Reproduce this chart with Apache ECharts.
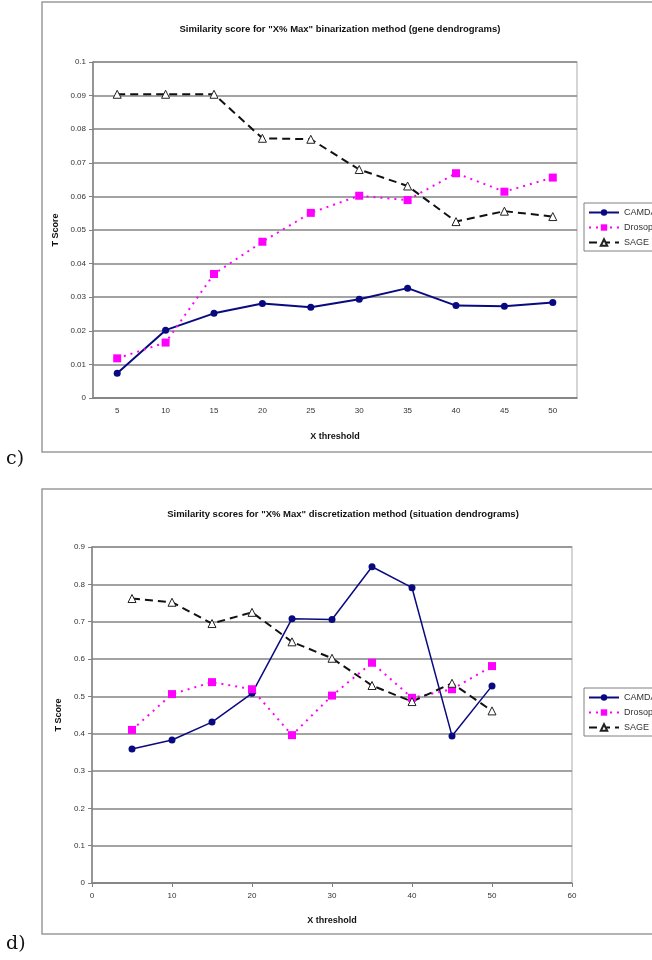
<!DOCTYPE html>
<html>
<head>
<meta charset="utf-8">
<script src="https://cdn.jsdelivr.net/npm/echarts@6/dist/echarts.min.js"></script>
<style>
  html, body { margin: 0; padding: 0; background: #fff; }
  #chart { width: 652px; height: 960px; }
</style>
</head>
<body>
<div id="chart"></div>
<script>
// panel c: binarization, gene dendrograms
var thresholdsC = ['5', '10', '15', '20', '25', '30', '35', '40', '45', '50'];
var camdaC = [0.0074, 0.0202, 0.0252, 0.0281, 0.0270, 0.0294, 0.0327, 0.0275, 0.0273, 0.0284];
var drosoC = [0.0118, 0.0165, 0.0369, 0.0465, 0.0551, 0.0602, 0.0589, 0.0669, 0.0614, 0.0656];
var sageC  = [0.0904, 0.0904, 0.0904, 0.0773, 0.0770, 0.0680, 0.0631, 0.0525, 0.0556, 0.0540];

// panel d: discretization, situation dendrograms
var thresholdsD = [5, 10, 15, 20, 25, 30, 35, 40, 45, 50];
var camdaD = [0.359, 0.383, 0.431, 0.508, 0.708, 0.706, 0.847, 0.791, 0.394, 0.528];
var drosoD = [0.410, 0.506, 0.538, 0.519, 0.396, 0.502, 0.590, 0.496, 0.519, 0.581];
var sageD  = [0.762, 0.752, 0.695, 0.725, 0.646, 0.602, 0.529, 0.486, 0.535, 0.461];

var seriesNames = ['CAMDA', 'Drosophila', 'SAGE'];
var titleC = 'Similarity score for "X% Max" binarization method (gene dendrograms)';
var titleD = 'Similarity scores for "X% Max" discretization method (situation dendrograms)';

var FONT = '"Liberation Sans Narrow", "Liberation Sans", Arial, sans-serif';
var gridColor = '#858585';

function pairs(xs, ys) {
    return xs.map(function (x, i) { return [x, ys[i]]; });
}

// style per series, shared by both panels
function lineSeries(name, data, idx, width) {
    var s = {
        name: name,
        type: 'line',
        data: data,
        xAxisIndex: idx,
        yAxisIndex: idx,
        animation: false,
        z: 3
    };
    if (name === 'CAMDA') {
        s.symbol = 'circle';
        s.symbolSize = 7;
        s.itemStyle = { color: '#0a0a80' };
        s.lineStyle = { color: '#0a0a80', width: width, type: 'solid' };
    } else if (name === 'Drosophila') {
        s.symbol = 'rect';
        s.symbolSize = 8;
        s.itemStyle = { color: '#ff00ff' };
        s.lineStyle = { color: '#ff00ff', width: 2, type: [2, 5] };
    } else {
        s.symbol = 'triangle';
        s.symbolSize = 8;
        s.itemStyle = { color: '#ffffff', borderColor: '#222222', borderWidth: 1 };
        s.lineStyle = { color: '#111111', width: 2, type: [8, 5] };
    }
    return s;
}

function yAxis(idx, max, interval) {
    return {
        type: 'value',
        gridIndex: idx,
        min: 0,
        max: max,
        interval: interval,
        name: 'T Score',
        nameLocation: 'middle',
        nameGap: 27,
        nameTextStyle: { fontFamily: FONT, fontSize: 9, fontWeight: 'bold', color: '#111' },
        axisLine: { show: true, lineStyle: { color: '#808080', width: 1.5 } },
        axisTick: { show: true, length: 4, lineStyle: { color: '#808080' } },
        axisLabel: {
            fontFamily: FONT, fontSize: 8, color: '#333', margin: 7,
            formatter: function (v) { return String(+v.toFixed(2)); }
        },
        splitLine: { show: true, lineStyle: { color: gridColor, width: 1.6 } }
    };
}

var chart = echarts.init(document.getElementById('chart'), null, { renderer: 'canvas' });

chart.setOption({
    backgroundColor: '#ffffff',
    animation: false,
    title: [
        {
            text: titleC, left: 335, top: 19, textAlign: 'center',
            textStyle: { fontFamily: FONT, fontSize: 9.5, fontWeight: 'bold', color: '#111' }
        },
        {
            text: titleD, left: 338, top: 504, textAlign: 'center',
            textStyle: { fontFamily: FONT, fontSize: 9.5, fontWeight: 'bold', color: '#111' }
        }
    ],
    legend: [
        {
            data: seriesNames, orient: 'vertical', left: 584, top: 203,
            padding: [5, 30, 4, 4], itemGap: 6, itemWidth: 30, itemHeight: 8,
            borderColor: '#808080', borderWidth: 1,
            textStyle: { fontFamily: FONT, fontSize: 9, color: '#333' },
            seriesIndex: [0, 1, 2]
        },
        {
            data: seriesNames, orient: 'vertical', left: 584, top: 688,
            padding: [5, 30, 4, 4], itemGap: 6, itemWidth: 30, itemHeight: 8,
            borderColor: '#808080', borderWidth: 1,
            textStyle: { fontFamily: FONT, fontSize: 9, color: '#333' }
        }
    ],
    grid: [
        { left: 93, top: 62, width: 484, height: 336, show: true, borderColor: '#c8c8c8', borderWidth: 1.5, backgroundColor: '#fff' },
        { left: 92, top: 547, width: 480, height: 336, show: true, borderColor: '#c8c8c8', borderWidth: 1.5, backgroundColor: '#fff' }
    ],
    xAxis: [
        {
            type: 'category', gridIndex: 0, data: thresholdsC, boundaryGap: true,
            name: 'X threshold', nameLocation: 'middle', nameGap: 34,
            nameTextStyle: { fontFamily: FONT, fontSize: 9, fontWeight: 'bold', color: '#111' },
            axisLine: { lineStyle: { color: '#808080', width: 1.5 } },
            axisTick: { length: 4, lineStyle: { color: '#808080' } },
            axisLabel: { fontFamily: FONT, fontSize: 8, color: '#333', margin: 9 },
            splitLine: { show: false }
        },
        {
            type: 'value', gridIndex: 1, min: 0, max: 60, interval: 10,
            name: 'X threshold', nameLocation: 'middle', nameGap: 33,
            nameTextStyle: { fontFamily: FONT, fontSize: 9, fontWeight: 'bold', color: '#111' },
            axisLine: { lineStyle: { color: '#808080', width: 1.5 } },
            axisTick: { length: 4, lineStyle: { color: '#808080' } },
            axisLabel: { fontFamily: FONT, fontSize: 8, color: '#333', margin: 9 },
            splitLine: { show: false }
        }
    ],
    yAxis: [yAxis(0, 0.1, 0.01), yAxis(1, 0.9, 0.1)],
    series: [
        lineSeries('CAMDA', camdaC, 0, 2),
        lineSeries('Drosophila', drosoC, 0, 2),
        lineSeries('SAGE', sageC, 0, 2),
        lineSeries('CAMDA', pairs(thresholdsD, camdaD), 1, 1.5),
        lineSeries('Drosophila', pairs(thresholdsD, drosoD), 1, 2),
        lineSeries('SAGE', pairs(thresholdsD, sageD), 1, 2)
    ],
    graphic: [
        // outer frames of the two pasted spreadsheet charts
        { type: 'rect', z: -1, shape: { x: 42, y: 2, width: 640, height: 450 },
          style: { fill: null, stroke: '#9a9a9a', lineWidth: 1.5 } },
        { type: 'rect', z: -1, shape: { x: 42, y: 489, width: 640, height: 445 },
          style: { fill: null, stroke: '#9a9a9a', lineWidth: 1.5 } },
        { type: 'text', left: 6, top: 450,
          style: { text: 'c)', font: '19px "DejaVu Serif", "Liberation Serif", serif', fill: '#111' } },
        { type: 'text', left: 6, top: 935,
          style: { text: 'd)', font: '19px "DejaVu Serif", "Liberation Serif", serif', fill: '#111' } }
    ]
});
</script>
</body>
</html>
